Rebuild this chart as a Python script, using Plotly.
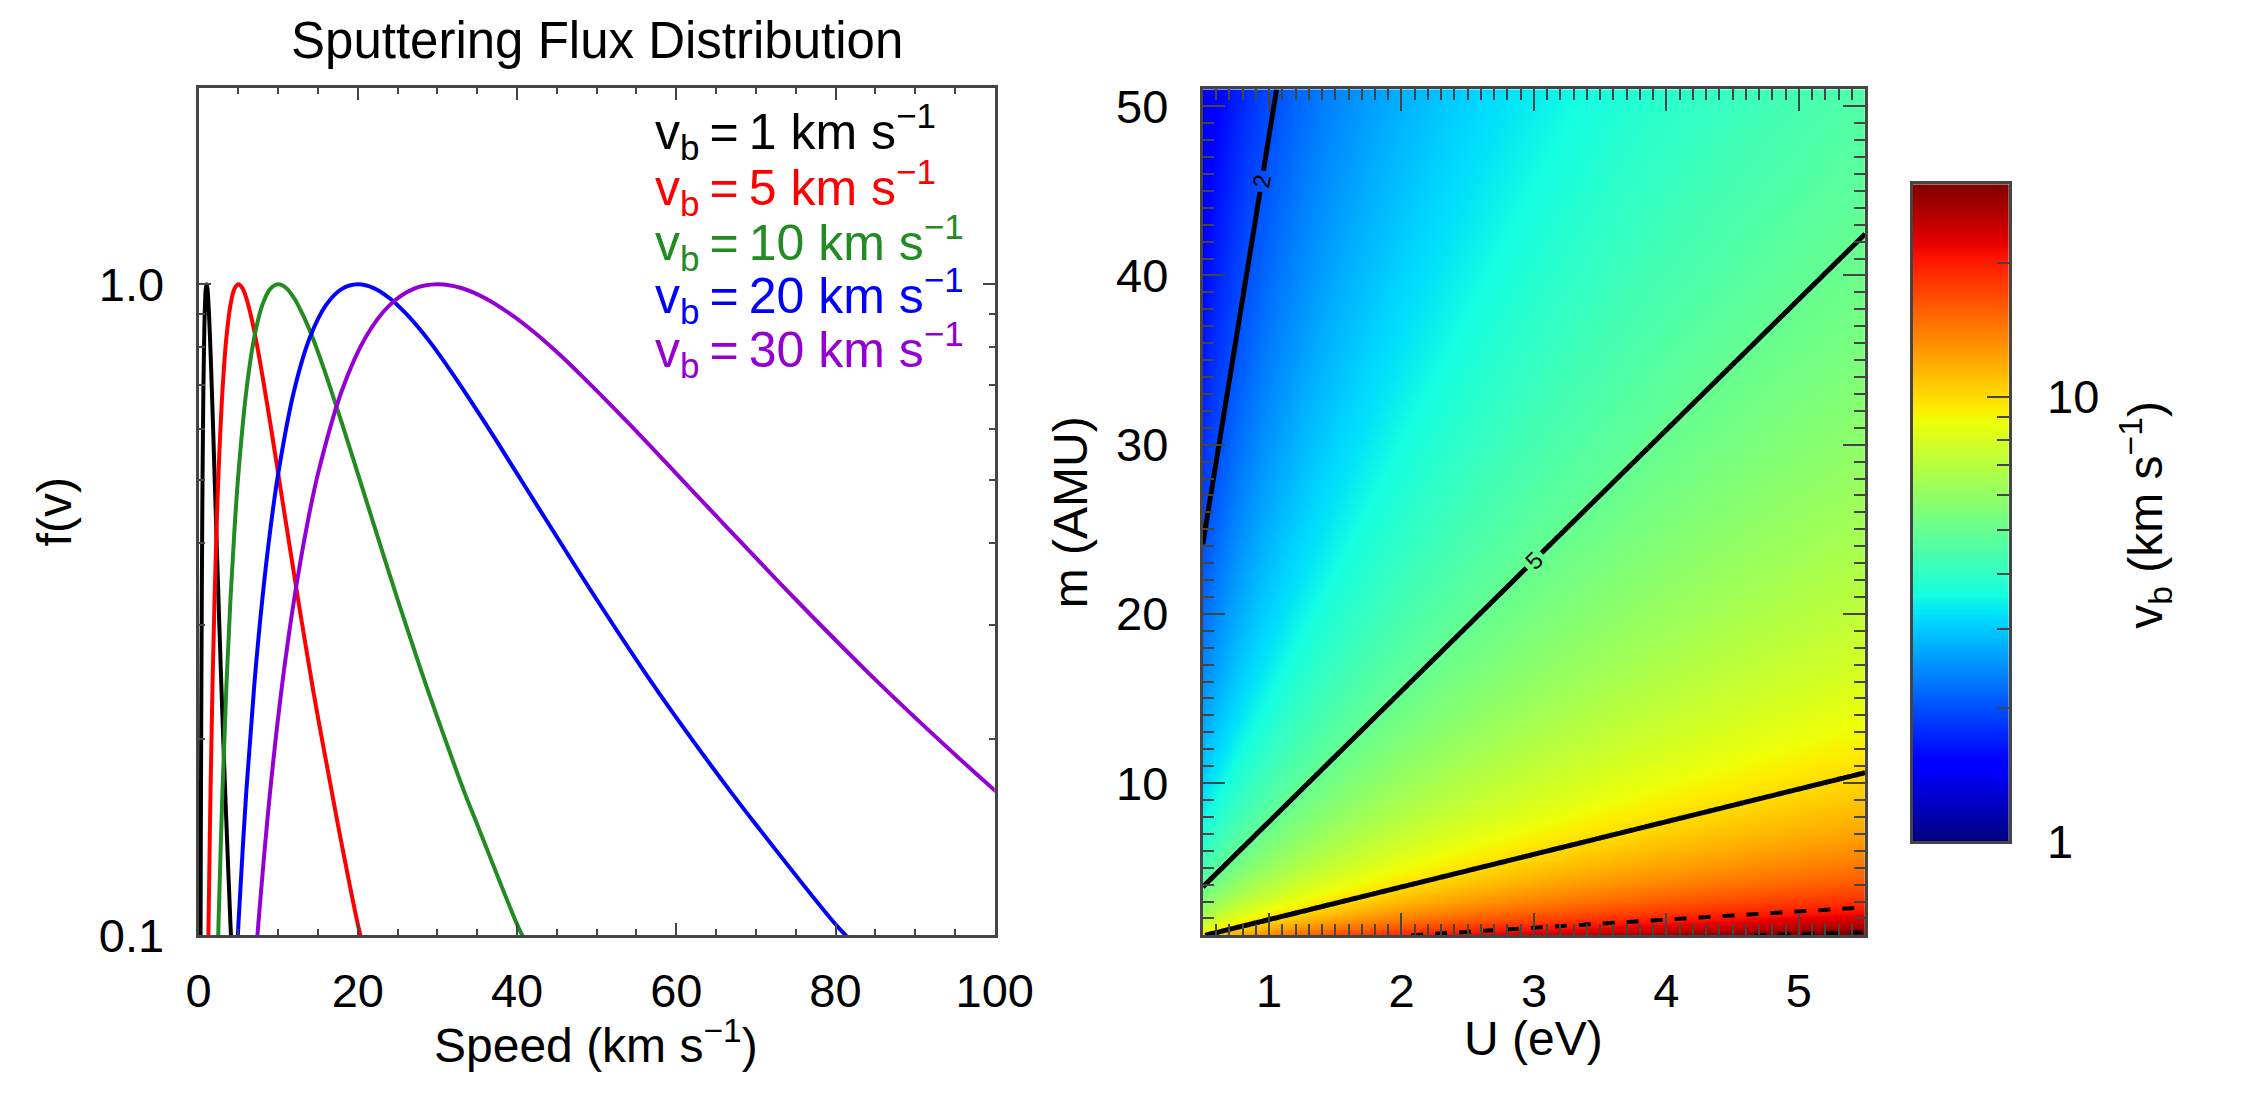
import numpy as np
import plotly.graph_objects as go

W, H = 2246, 1093
FONT = "Liberation Sans, Arial, Helvetica, sans-serif"

# ---- Left panel: normalised sputtering flux distributions f(v) ----
SPEED_VB1 = [0.24, 0.25, 0.3, 0.35, 0.4, 0.45, 0.5, 0.6, 0.7, 0.8, 0.9, 1.0, 1.1, 1.2, 1.3,
             1.4, 1.5, 1.6, 1.8, 2.0, 2.2, 2.5, 2.8, 3.0, 3.33, 3.5, 4.0, 4.1]
FLUX_VB1 = [0.093, 0.104, 0.167, 0.243, 0.328, 0.419, 0.512, 0.687, 0.830, 0.929, 0.984, 1.0,
            0.987, 0.952, 0.903, 0.847, 0.787, 0.726, 0.612, 0.512, 0.428, 0.328, 0.254, 0.216,
            0.167, 0.148, 0.104, 0.098]

SPEED_VB5 = [1.2, 1.25, 1.5, 1.75, 2.0, 2.25, 2.5, 3.0, 3.5, 4.0, 4.5, 5.0, 5.5, 6.0, 6.5,
             7.0, 7.5, 8.0, 9.0, 10.0, 11.0, 12.5, 14.0, 15.0, 16.7, 17.5, 20.0, 20.5]
FLUX_VB5 = [0.093, 0.104, 0.167, 0.243, 0.328, 0.419, 0.512, 0.687, 0.830, 0.929, 0.984, 1.0,
            0.987, 0.952, 0.903, 0.847, 0.787, 0.726, 0.612, 0.512, 0.428, 0.328, 0.254, 0.216,
            0.167, 0.148, 0.104, 0.098]

SPEED_VB10 = [2.4, 2.5, 3.0, 3.5, 4.0, 4.5, 5.0, 6.0, 7.0, 8.0, 9.0, 10.0, 11.0, 12.0, 13.0,
              14.0, 15.0, 16.0, 18.0, 20.0, 22.0, 25.0, 28.0, 30.0, 33.3, 35.0, 40.0, 41.0]
FLUX_VB10 = [0.093, 0.104, 0.167, 0.243, 0.328, 0.419, 0.512, 0.687, 0.830, 0.929, 0.984, 1.0,
             0.987, 0.952, 0.903, 0.847, 0.787, 0.726, 0.612, 0.512, 0.428, 0.328, 0.254, 0.216,
             0.167, 0.148, 0.104, 0.098]

SPEED_VB20 = [4.8, 5.0, 6.0, 7.0, 8.0, 9.0, 10.0, 12.0, 14.0, 16.0, 18.0, 20.0, 22.0, 24.0, 26.0,
              28.0, 30.0, 32.0, 36.0, 40.0, 44.0, 50.0, 56.0, 60.0, 66.7, 70.0, 80.0, 82.0]
FLUX_VB20 = [0.093, 0.104, 0.167, 0.243, 0.328, 0.419, 0.512, 0.687, 0.830, 0.929, 0.984, 1.0,
             0.987, 0.952, 0.903, 0.847, 0.787, 0.726, 0.612, 0.512, 0.428, 0.328, 0.254, 0.216,
             0.167, 0.148, 0.104, 0.098]

SPEED_VB30 = [7.2, 7.5, 9.0, 10.5, 12.0, 13.5, 15.0, 18.0, 21.0, 24.0, 27.0, 30.0, 33.0, 36.0,
              39.0, 42.0, 45.0, 48.0, 54.0, 60.0, 66.0, 75.0, 84.0, 90.0, 100.0, 105.0]
FLUX_VB30 = [0.093, 0.104, 0.167, 0.243, 0.328, 0.419, 0.512, 0.687, 0.830, 0.929, 0.984, 1.0,
             0.987, 0.952, 0.903, 0.847, 0.787, 0.726, 0.612, 0.512, 0.428, 0.328, 0.254, 0.216,
             0.167, 0.148]

SERIES = [
    ("1", SPEED_VB1, FLUX_VB1, "#000000"),
    ("5", SPEED_VB5, FLUX_VB5, "#ff0000"),
    ("10", SPEED_VB10, FLUX_VB10, "#228b22"),
    ("20", SPEED_VB20, FLUX_VB20, "#0000ff"),
    ("30", SPEED_VB30, FLUX_VB30, "#9400d3"),
]

# ---- Right panel: binding speed v_b over surface binding energy U and mass m ----
U_EV = np.linspace(0.5, 5.5, 241)
M_AMU = np.linspace(1.0, 51.0, 241)
EV_J = 1.602177e-19
AMU_KG = 1.660539e-27
VB_KMS = np.sqrt(2.0 * U_EV[None, :] * EV_J / (M_AMU[:, None] * AMU_KG)) / 1e3

CONTOUR_LEVELS = [2, 5, 10, 20, 30]
LABELLED_LEVELS = [2, 5]
DASHED_LEVELS = [20, 30]
VB_RANGE = [1.0, 30.0]
CB_MAJOR = [1, 10]
CB_MINOR = [2, 3, 4, 5, 6, 7, 8, 9, 20]

# matplotlib-style jet colour table
JET = [
    [0.000, "rgb(0,0,128)"], [0.110, "rgb(0,0,255)"], [0.125, "rgb(0,0,255)"],
    [0.340, "rgb(0,219,255)"], [0.350, "rgb(0,229,247)"], [0.375, "rgb(21,255,226)"],
    [0.640, "rgb(238,255,8)"], [0.650, "rgb(247,246,0)"], [0.660, "rgb(255,236,0)"],
    [0.890, "rgb(255,19,0)"], [0.910, "rgb(232,0,0)"], [1.000, "rgb(128,0,0)"],
]


def px(x):
    return x / W


def py(y):
    return 1 - y / H


fig = go.Figure()

for label, speed, flux, colour in SERIES:
    fig.add_trace(go.Scatter(
        x=speed, y=flux, mode="lines", line=dict(color=colour, width=4, shape="spline"),
        showlegend=False, xaxis="x", yaxis="y", cliponaxis=True,
    ))

zlo, zhi = np.log10(VB_RANGE[0]), np.log10(VB_RANGE[1])
fig.add_trace(go.Heatmap(
    x=U_EV, y=M_AMU, z=np.log10(VB_KMS), zmin=zlo, zmax=zhi, colorscale=JET,
    zsmooth="best", showscale=False, xaxis="x2", yaxis="y2", hoverinfo="skip",
))

for level in CONTOUR_LEVELS:
    dashed = level in DASHED_LEVELS
    fig.add_trace(go.Contour(
        x=U_EV, y=M_AMU, z=VB_KMS, showscale=False, xaxis="x2", yaxis="y2",
        contours=dict(start=level, end=level, size=1, coloring="none",
                      showlabels=level in LABELLED_LEVELS,
                      labelfont=dict(size=24, color="black", family=FONT)),
        line=dict(color="black", width=4 if dashed else 5, dash="dash" if dashed else "solid"),
        hoverinfo="skip",
    ))

# colour bar drawn as its own narrow panel
cb_vals = np.linspace(zlo, zhi, 300)
fig.add_trace(go.Heatmap(
    x=[0, 1], y=cb_vals, z=[[v, v] for v in cb_vals], zmin=zlo, zmax=zhi, colorscale=JET,
    zsmooth="best", showscale=False, xaxis="x3", yaxis="y3", hoverinfo="skip",
))

AX = "#454545"
tickfont = dict(family=FONT, size=47, color="black")

fig.update_layout(
    width=W, height=H, margin=dict(l=0, r=0, t=0, b=0),
    paper_bgcolor="white", plot_bgcolor="white", showlegend=False,
    font=dict(family=FONT, color="black"),
    xaxis=dict(domain=[px(190), px(1005)], anchor="y", range=[0, 100],
               tickvals=[0, 20, 40, 60, 80, 100], ticks="inside", ticklen=12, tickwidth=2,
               tickcolor=AX, minor=dict(dtick=5, ticks="inside", ticklen=6, tickwidth=2,
                                        tickcolor=AX),
               showline=True, linecolor=AX, linewidth=3, mirror="ticks", showgrid=False,
               zeroline=False, tickfont=tickfont, ticklabelstandoff=12),
    yaxis=dict(domain=[py(957), py(82)], anchor="x", type="log", range=[-1, np.log10(2.0)],
               tickvals=[0.1, 1.0], ticktext=["0.1", "1.0"], ticks="inside", ticklen=12,
               tickwidth=2, tickcolor=AX,
               minor=dict(tickvals=[0.2, 0.3, 0.4, 0.5, 0.6, 0.7, 0.8, 0.9, 2.0],
                          ticks="inside", ticklen=6, tickwidth=2, tickcolor=AX),
               showline=True, linecolor=AX, linewidth=3, mirror="ticks", showgrid=False,
               zeroline=False, tickfont=tickfont, ticklabelstandoff=22),
    xaxis2=dict(domain=[px(1218), px(1896)], anchor="y2", range=[0.5, 5.5],
                tickvals=[1, 2, 3, 4, 5], ticks="inside", ticklen=22, tickwidth=2,
                tickcolor=AX, minor=dict(dtick=0.1, tick0=0, ticks="inside", ticklen=11,
                                         tickwidth=2, tickcolor=AX),
                showline=True, linecolor=AX, linewidth=3, mirror="ticks", showgrid=False,
                zeroline=False, tickfont=tickfont, ticklabelstandoff=12),
    yaxis2=dict(domain=[py(957), py(83)], anchor="x2", range=[1, 51],
                tickvals=[10, 20, 30, 40, 50], ticks="inside", ticklen=22, tickwidth=2,
                tickcolor=AX, minor=dict(dtick=1, tick0=0, ticks="inside", ticklen=11,
                                         tickwidth=2, tickcolor=AX),
                showline=True, linecolor=AX, linewidth=3, mirror="ticks", showgrid=False,
                zeroline=False, tickfont=tickfont, ticklabelstandoff=22),
    xaxis3=dict(domain=[px(1945), px(2043)], anchor="y3", range=[0, 1], showticklabels=False,
                ticks="", showline=True, linecolor=AX, linewidth=3, mirror=True,
                showgrid=False, zeroline=False, fixedrange=True),
    yaxis3=dict(domain=[py(860), py(181)], anchor="x3", side="right", range=[zlo, zhi],
                tickvals=np.log10(CB_MAJOR).tolist(), ticktext=[str(v) for v in CB_MAJOR],
                ticks="inside", ticklen=22, tickwidth=2, tickcolor=AX,
                minor=dict(tickvals=np.log10(CB_MINOR).tolist(), ticks="inside", ticklen=12,
                           tickwidth=2, tickcolor=AX),
                showline=True, linecolor=AX, linewidth=3, mirror=True, showgrid=False,
                zeroline=False, tickfont=tickfont, ticklabelstandoff=26),
)

ann = []


def text(x, y, s, size=48, color="black", angle=0, xanchor="center", yanchor="middle"):
    ann.append(dict(x=px(x), y=py(y), xref="paper", yref="paper", text=s, showarrow=False,
                    textangle=angle, xanchor=xanchor, yanchor=yanchor,
                    font=dict(family=FONT, size=size, color=color)))


text(598, 33, "Sputtering Flux Distribution", size=51)
text(42, 520, "f(v)", angle=-90)
text(597, 1034, "Speed (km s<sup>−1</sup>)", yanchor="top")
text(1557, 1034, "U (eV)", yanchor="top")
text(1082, 520, "m (AMU)", angle=-90)
text(2183, 522, "v<sub>b</sub> (km s<sup>−1</sup>)", angle=-90)

legend_y = [127, 184, 241, 296, 352]
for (label, _, _, colour), yy in zip(SERIES, legend_y):
    text(655, yy, "v<sub>b</sub>\u2009=\u2009" + label + " km s<sup>−1</sup>", size=50,
         color=colour, xanchor="left")

fig.update_layout(annotations=ann)
fig.write_html("out.html")
